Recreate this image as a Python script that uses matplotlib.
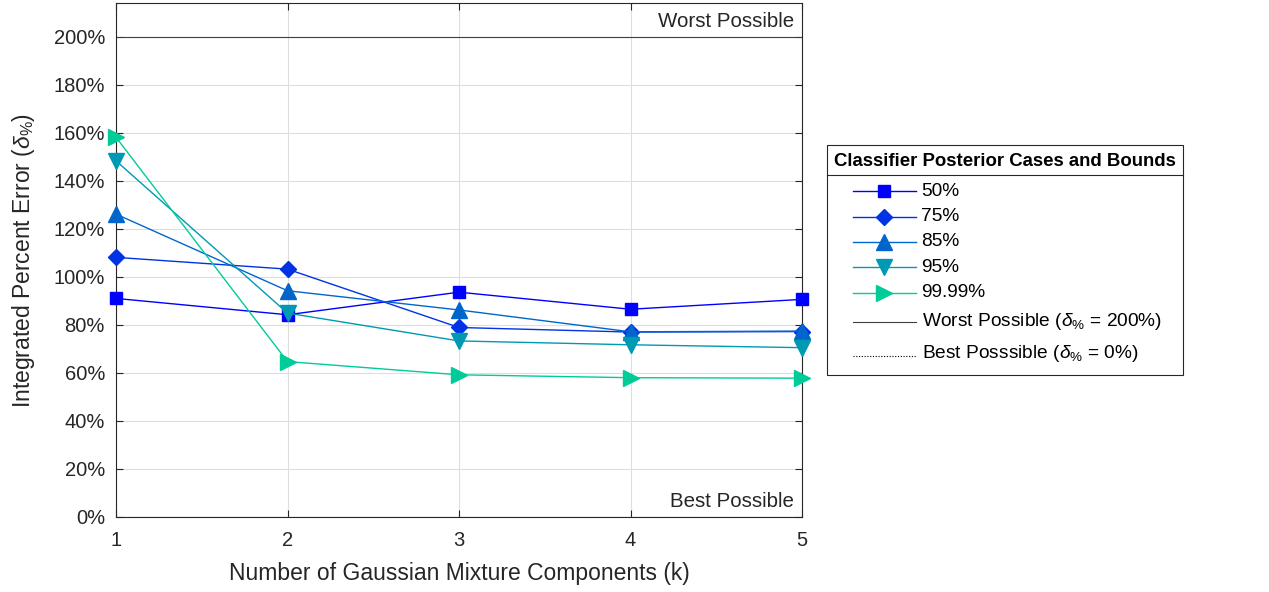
import numpy as np
import matplotlib
matplotlib.use("Agg")
import matplotlib.pyplot as plt
from matplotlib.patches import Rectangle

plt.rcParams['font.family'] = ['Liberation Sans', 'DejaVu Sans']
plt.rcParams['mathtext.fontset'] = 'custom'
plt.rcParams['mathtext.rm'] = 'Liberation Sans'
plt.rcParams['mathtext.it'] = 'Liberation Sans:italic'

# Data
k = [1, 2, 3, 4, 5]
cases = ["50%", "75%", "85%", "95%", "99.99%"]
err_50 = [91.0, 84.2, 93.6, 86.5, 90.6]
err_75 = [108.1, 103.2, 78.9, 77.0, 77.2]
err_85 = [126.1, 94.2, 86.2, 77.1, 77.4]
err_95 = [148.3, 84.9, 73.3, 71.7, 70.5]
err_9999 = [158.1, 64.7, 59.2, 58.0, 57.8]
worst = 200
best = 0
worst_label = r"Worst Possible ($\delta_{\%}$ = 200%)"
best_label = r"Best Posssible ($\delta_{\%}$ = 0%)"

series = [err_50, err_75, err_85, err_95, err_9999]
markers = ["s", "D", "^", "v", ">"]
msizes = [9, 8, 11, 11, 11]
# winter colormap, first 5 of 6
colors = [(0, 0, 1), (0, 0.2, 0.9), (0, 0.4, 0.8), (0, 0.6, 0.7), (0, 0.8, 0.6)]
txt = (0.15, 0.15, 0.15)
worst_color = (0.25, 0.25, 0.25)

W, H = 1269, 592
fig = plt.figure(figsize=(W / 100, H / 100), dpi=100)
ax = fig.add_axes([116 / W, 1 - 517 / H, (802 - 116) / W, (517 - 3) / H])

for vals, m, ms, c in zip(series, markers, msizes, colors):
    ax.plot(k, vals, marker=m, ms=ms, color=c, lw=1, clip_on=False, zorder=3)

ax.axhline(worst, color=worst_color, lw=0.8)
ax.axhline(best, color="black", lw=0.8, ls=(0, (1, 1.5)))

ax.text(4.955, 206.5, "Worst Possible", ha="right", va="center", fontsize=14.8, color=txt)
ax.text(4.955, 6.5, "Best Possible", ha="right", va="center", fontsize=14.8, color=txt)

ax.set_xlim(1, 5)
ax.set_ylim(0, 214)
ax.set_xticks(k)
ax.set_yticks(np.arange(0, 201, 20))
ax.set_yticklabels([f"{v}%" for v in range(0, 201, 20)])
ax.grid(True, color=(0.87, 0.87, 0.87), lw=0.8)
ax.set_axisbelow(True)
ax.tick_params(direction="in", top=True, right=True, labelsize=14.5, colors=txt, length=5, width=0.8)
ax.tick_params(axis="y", pad=8)
ax.tick_params(axis="x", pad=10)
for sp in ax.spines.values():
    sp.set_color(txt)
    sp.set_linewidth(0.8)

ax.set_xlabel("Number of Gaussian Mixture Components (k)", fontsize=16.5, color=txt, labelpad=9)
ax.set_ylabel(r"Integrated Percent Error ($\delta_{\%}$)", fontsize=16.5, color=txt, labelpad=12)

# Legend drawn in figure pixel coordinates
lax = fig.add_axes([0, 0, 1, 1])
lax.set_xlim(0, W)
lax.set_ylim(H, 0)
lax.axis("off")
box_l, box_r, box_t, box_b = 826.5, 1182.5, 145, 375
lax.add_patch(Rectangle((box_l, box_t), box_r - box_l, box_b - box_t, fill=False,
                        edgecolor=txt, lw=0.8))
lax.plot([box_l, box_r], [174.5, 174.5], color=txt, lw=0.8)
lax.text((box_l + box_r) / 2, 161, "Classifier Posterior Cases and Bounds", ha="center",
         va="center", fontsize=13.4, fontweight="bold", color="black")

h0, h1, text_x = 853, 915.5, 921.5
row_y = [191, 216.5, 241.5, 267, 292.5]
for y, lab, m, ms, c in zip(row_y, cases, markers, msizes, colors):
    lax.plot([h0, h1], [y, y], color=c, lw=1)
    lax.plot([(h0 + h1) / 2], [y], marker=m, ms=ms, color=c, ls="none")
    lax.text(text_x, y, lab, ha="left", va="center", fontsize=13.8, color="black")
lax.plot([h0, h1], [322, 322], color=worst_color, lw=0.8)
lax.text(text_x, 322, worst_label, ha="left", va="center", fontsize=13.8, color="black")
lax.plot([h0, h1], [356, 356], color="black", lw=0.8, ls=(0, (1, 1.5)))
lax.text(text_x, 354, best_label, ha="left", va="center", fontsize=13.8, color="black")

fig.savefig("out.png", dpi=100)
